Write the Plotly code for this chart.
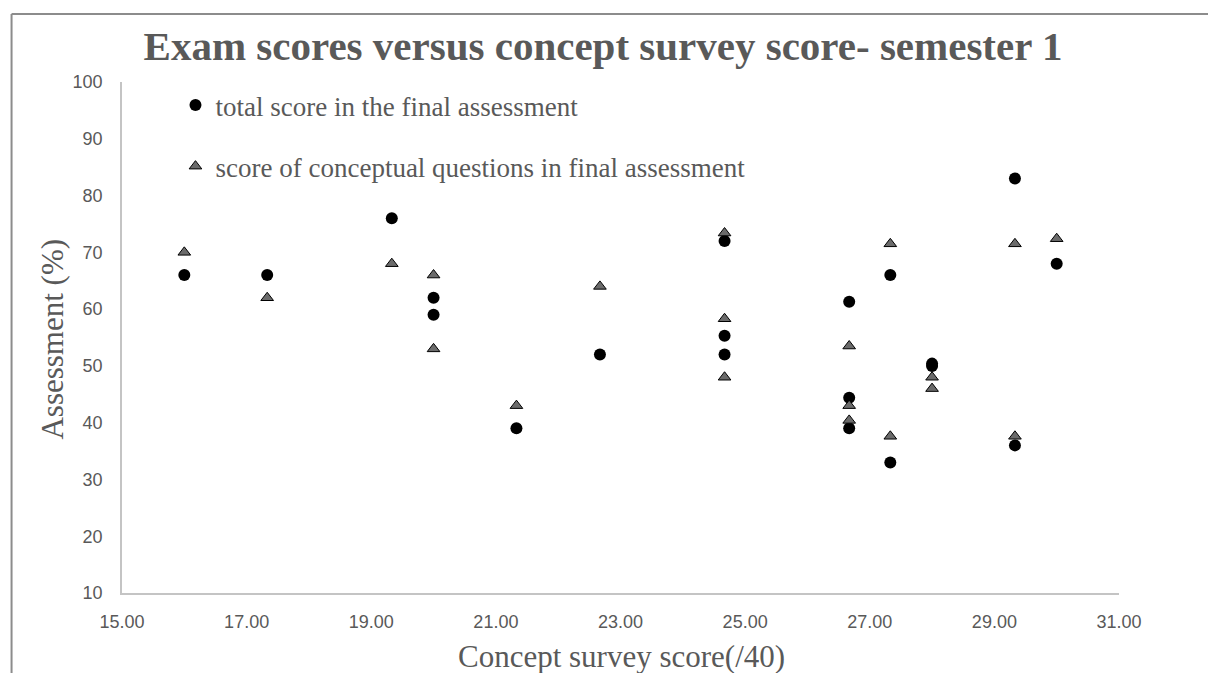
import plotly.graph_objects as go

# Concept survey score (/40) for each student
concept_x_total = [16.00, 17.33, 19.33, 20.00, 20.00, 21.33, 22.67, 24.67, 24.67, 24.67,
                   26.67, 26.67, 26.67, 27.33, 27.33, 28.00, 28.00, 29.33, 29.33, 30.00]
total_score = [66, 66, 76, 62, 59, 39, 52, 72, 55.3, 52,
               61.3, 44.4, 39, 66, 33, 50, 50.4, 83, 36, 68]

concept_x_conc = [16.00, 17.33, 19.33, 20.00, 20.00, 21.33, 22.67, 24.67, 24.67, 24.67,
                  26.67, 26.67, 26.67, 27.33, 27.33, 28.00, 28.00, 29.33, 29.33, 30.00]
conceptual_score = [70, 62, 68, 66, 53, 43, 64, 73.4, 58.3, 48,
                    53.5, 43, 40.4, 71.5, 37.6, 48, 46, 71.5, 37.6, 72.4]

x_ticks = [15, 17, 19, 21, 23, 25, 27, 29, 31]
y_ticks = [10, 20, 30, 40, 50, 60, 70, 80, 90, 100]

title_text = "Exam scores versus concept survey score- semester 1"
x_title = "Concept survey score(/40)"
y_title = "Assessment (%)"
name_total = "total score in the final assessment"
name_conc = "score of conceptual questions in final assessment"

GREY = "#595959"
SERIF = "Liberation Serif, Times New Roman, serif"
SANS = "Liberation Sans, Arial, sans-serif"

W, H = 1208, 673
L, R, T, B = 121.5, 89, 82, 80
pw = W - L - R
ph = H - T - B


def px2x(px):
    return (px - L) / pw


def py2y(py):
    return (H - B - py) / ph


fig = go.Figure()
fig.add_trace(go.Scatter(
    x=concept_x_total, y=total_score, mode="markers", name=name_total,
    legendgroup="a",
    marker=dict(symbol="circle", size=12, color="black", line=dict(width=0)),
))
fig.add_trace(go.Scatter(
    x=concept_x_conc, y=conceptual_score, mode="markers", name=name_conc,
    legendgroup="b",
    marker=dict(symbol="triangle-up", size=11, color="#6b6b6b",
                line=dict(width=1, color="black")),
))

fig.update_layout(
    width=W, height=H,
    margin=dict(l=L, r=R, t=T, b=B, autoexpand=False),
    paper_bgcolor="white", plot_bgcolor="white",
    title=dict(text=title_text, x=603 / W, xanchor="center",
               y=1 - 46 / H, yanchor="middle",
               font=dict(family=SERIF, size=41, color=GREY, weight="bold")),
    showlegend=True,
    legend=dict(x=px2x(175), y=py2y(81), xanchor="left", yanchor="top",
                font=dict(family=SERIF, size=27, color=GREY),
                bgcolor="rgba(0,0,0,0)", tracegroupgap=23,
                traceorder="grouped"),
    xaxis=dict(range=[15, 31], tickvals=x_ticks, tickformat=".2f",
               showgrid=False, zeroline=False, showline=True,
               linecolor="#c4c4c4", linewidth=1.5, ticks="",
               tickfont=dict(family=SANS, size=18, color=GREY),
               ticklabelstandoff=12),
    yaxis=dict(range=[10, 100], tickvals=y_ticks,
               showgrid=False, zeroline=False, showline=True,
               linecolor="#c4c4c4", linewidth=1.5, ticks="",
               tickfont=dict(family=SANS, size=18, color=GREY),
               ticklabelstandoff=14),
    annotations=[
        dict(text=x_title, xref="paper", yref="paper", x=px2x(621.5), y=py2y(656),
             xanchor="center", yanchor="middle", showarrow=False,
             font=dict(family=SERIF, size=31, color=GREY)),
        dict(text=y_title, xref="paper", yref="paper", x=px2x(51), y=py2y(339),
             xanchor="center", yanchor="middle", showarrow=False, textangle=-90,
             font=dict(family=SERIF, size=31, color=GREY)),
    ],
    shapes=[
        dict(type="line", xref="paper", yref="paper", x0=px2x(11), x1=px2x(11),
             y0=py2y(14), y1=py2y(H + 5), line=dict(color="#8c8c8c", width=2)),
        dict(type="line", xref="paper", yref="paper", x0=px2x(11), x1=px2x(W + 5),
             y0=py2y(14), y1=py2y(14), line=dict(color="#8c8c8c", width=2)),
    ],
)

fig.write_html("out.html",
               config={"displayModeBar": False},
               post_script="document.body.style.margin='0';"
                           "document.body.style.overflow='hidden';")
